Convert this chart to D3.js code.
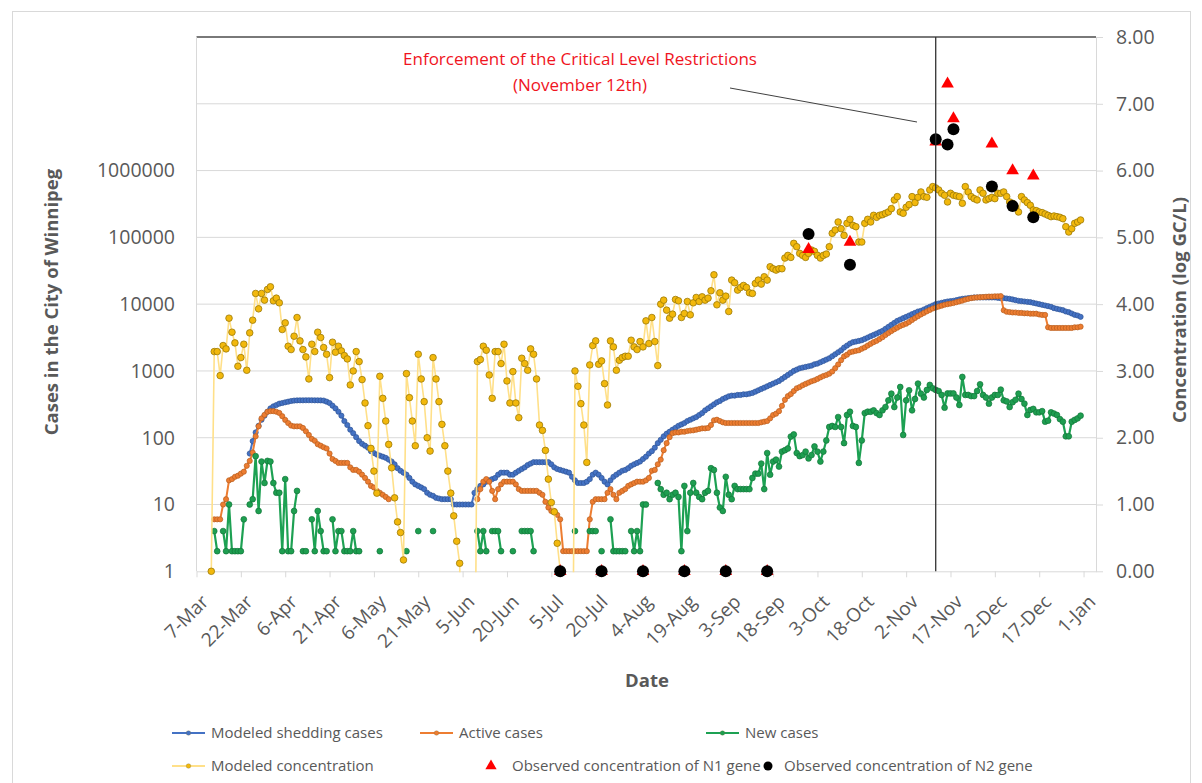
<!DOCTYPE html>
<html>
<head>
<meta charset="utf-8">
<title>Winnipeg cases and wastewater concentration</title>
<script src="https://cdn.jsdelivr.net/npm/d3@7"></script>
<style>
  body { margin: 0; background: #fff; }
  svg { display: block; }
  text { font-family: "Open Sans", "DejaVu Sans", sans-serif; }
</style>
</head>
<body>
<svg id="chart" width="1202" height="783"></svg>
<script>
// ---------------------------------------------------------------------------
// Data (daily series, 2020). Case counts on the left log axis,
// wastewater concentrations (log GC/L) on the right axis.
// ---------------------------------------------------------------------------
const axisOrigin = "2020-03-07";
const tickLabels = ["7-Mar", "22-Mar", "6-Apr", "21-Apr", "6-May", "21-May", "5-Jun",
  "20-Jun", "5-Jul", "20-Jul", "4-Aug", "19-Aug", "3-Sep", "18-Sep", "3-Oct",
  "18-Oct", "2-Nov", "17-Nov", "2-Dec", "17-Dec", "1-Jan"];
const leftTicks = [1, 10, 100, 1000, 10000, 100000, 1000000];
const rightTicks = [0, 1, 2, 3, 4, 5, 6, 7, 8];

// Modeled shedding cases, daily from 25 March
const sheddingStart = "2020-03-25";
const shedding = [
  58, 89, 120, 151, 186, 214, 245, 275, 295, 309, 324, 331, 339, 347, 355,
  360, 362, 363, 363, 364, 364, 364, 363, 363, 362, 360,
  347, 331, 302, 275, 245, 214, 178, 155, 132, 117, 102, 89, 81, 76, 71, 63,
  59, 56, 54, 52, 50, 47, 44, 40, 35, 32, 30, 28, 25, 22, 20, 19, 18, 17, 15, 14, 13.5, 12.6, 12.3, 12, 12, 12, 12,
  10, 10, 10, 10, 10, 10, 10,
  15, 17, 19, 20, 22, 23, 24, 25, 28, 30, 30, 30, 28, 28, 30, 32, 34, 36, 39, 41, 43, 43, 43, 43, 43, 43,
  40, 36, 34, 33, 32, 31, 30, 26, 23, 21, 21, 21, 22, 24, 28, 30, 28, 25, 22, 20, 23, 26, 28, 30, 32, 33, 35, 38, 40, 42, 44, 48, 52, 58, 63, 71, 83,
  93, 105, 115, 123, 132, 141, 151, 158, 166, 178, 186, 195, 204, 219, 234, 257, 275, 295, 316, 339, 355, 380, 398, 417, 427, 427, 437, 437, 447, 447, 457, 468, 490, 513, 537, 562, 589, 617, 646, 676, 708, 759, 813, 871, 933, 1000, 1047, 1096,
  1122, 1148, 1175, 1202, 1259, 1288, 1349, 1413, 1479, 1549, 1660, 1778, 1905, 2042, 2239, 2399, 2570, 2692, 2754, 2818, 2884, 3020, 3162, 3311, 3467, 3631, 3802, 3981, 4266, 4571, 4898, 5248, 5623, 5888, 6166, 6457, 6761, 7079, 7413, 7762, 7943, 8318, 8710, 9120, 9550, 10000,
  10230, 10470, 10720, 10960, 11090, 11220, 11480, 11750, 12020, 12160, 12300, 12450, 12590, 12590, 12590, 12590, 12590, 12590, 12590, 12590, 12450, 12300, 12300, 12160, 12020, 11750, 11480, 11220, 11090, 10960, 10840, 10720, 10470, 10230, 10000, 9772, 9550, 9333, 9120, 8710, 8511, 8318, 8128, 7762, 7586, 7244, 6918, 6761, 6457
];

// Active cases, daily from 13 March (null = no value reported)
const activeStart = "2020-03-13";
const active = [
  6, 6, 6, 10, 12, 23, 24, 26, 27, 29, 31, 38, 45, 60, 105, 148, 195, 220, 245, 250, 250, 245, 235, 210, 185, 166, 152, 148, 148, 148,
  140, 125, 110, 96, 90, 80, 76, 72, 69, 58, 48, 45, 42, 42, 42, 42, 36, 33, 33, 31, 28, 25, 22, 19, 18, 16, 15, 14, 13, 12,
  null, null, null, null, null, null, null, null, null, null, null, null, null, null, null,
  null, null, null, null, null, null, null, null, null, null, null, null, null, null,
  12, 17, 22, 24, 22, 16, 12, 17, 20, 22, 22, 22, 22, 20, 17, 16, 16, 16, 16, 16, 16, 15, 14, 11, 9, 8, 8, 7, 6, 2, 2, 2, 2, 2, 2, 2, 2, 2, 6, 11, 12, 12, 12, 12, 15,
  17, 14, 12, 15, 16, 17, 19, 20, 21, 22, 22, 22, 23, 25, 32, 33, 40, 47, 65, 83, 102, 117, 120, 120, 123, 123, 126, 128, 129, 132, 135, 138, 138, 140, 155, 182, 186, 178, 170, 166,
  166, 166, 166, 166, 166, 166, 166, 166, 166, 166, 166, 170, 174, 178, 195, 219, 229,
  250, 300, 370, 420, 450, 500, 550, 575, 610, 640, 670, 700, 724, 760, 800, 840, 870, 910, 980, 1100, 1250, 1450, 1650, 1750, 1900, 1950, 2000, 2040, 2150, 2250, 2400, 2550, 2700, 2820, 3000, 3200, 3450, 3700, 3950, 4200, 4450, 4700, 4900, 5100,
  5400, 5800, 6200, 6600, 7000, 7400, 7800, 8200, 8600, 8900, 9200, 9500, 9800, 10000, 10200, 10400, 10700, 11000, 11300, 11700, 12000, 12300, 12500, 12600, 12700, 12800, 12900, 13000, 13000, 13100, 13100, 13200,
  8100, 7700, 7600, 7500, 7500, 7400, 7400, 7300, 7300, 7200, 7200, 7200, 7000, 6900, 6900,
  4500, 4400, 4400, 4400, 4400, 4400, 4400, 4400, 4400, 4500, 4500, 4600
];

// New cases, daily from 13 March (null = no new cases)
const newStart = "2020-03-13";
const newCases = [
  4, 2, null, 4, 2, 10, 2, 2, 2, 2, 6, null, 10, 12, 53, 8, 44, 21, 45, 44,
  21, 15, 15, 2, 24, 2, 2, 8, 16, null, 2, 2, null, 6, 2, 8, 4, 2, 2, null,
  6, 2, 4, 4, 2, 2, 2, 4, 2, 2,
  null, null, null, null, null, null, 2, null, null, null, null, null, null, null, null, 2, null, null, null, 4,
  null, null, null, null, 4, null, null, null, null, null, null, null, null, null, null, null, null, null, null,
  4, 2, 4, 2, null, 4, 4, 4, 2, null, null, null, 2, null, null, 4, 4, 4, 4, 2,
  null, null, null, null, null, null, null, null, null, null, null, null, null, 4, null, null, null, null, 4, 4, 4,
  null, 2, null, null, 6, 2, 2, 2, 2, 2, null, 4, 2, 4, 2, 10, 10, null, null, null,
  21, 17, 14, 15, 12, 14, 15, 13, 2, 19, 4, 15, 21, 15, 13, 12, 15, 16, 35, 33, 15, 9, 8, 26, 14, 12, 19, 17, 17, 17, 17, 17, 25, 29, 29, 41, 17, 59, 28, 44, 47,
  37, 62, 65, 69, 104, 112, 59, 53,
  55, 62, 49, 55, 74, 62, 44, 62, 91, 145, 150, 145, 204, 145, 83, 219, 245, 150, 145, 42,
  91, 234, 245, 245, 257, 234, 219, 257, 288, 363, 457, 288, 400, 575, 110, 363, 513, 257, 380, 646,
  457, 400, 520, 617, 550, 520, 500, 437, 282, 460, 460, 460, 400, 309, 813, 437, 437, 420, 420, 500,
  631, 437, 400, 324, 400, 437, 437, 525, 363, 350, 288, 340, 370, 457, 380, 324, 219, 260, 270, 240,
  240, 250, 174, 180, 240, 230, 219, 190, 174, 105, 105, 174, 185, 195, 214
];

// Modeled concentration (log GC/L), daily from 12 March.
// Days with no detectable concentration sit below the axis floor.
const concStart = "2020-03-12";
const concentration = [
  0, 3.29, 3.29, 2.93, 3.38, 3.33, 3.79, 3.58, 3.42, 3.07, 3.2, 3.4, 3.01, 3.57, 3.76, 4.16,
  3.93, 4.16, 4.06, 4.22, 4.26, 4.05, 4.09, 4.02, 3.62, 3.72, 3.37, 3.32, 3.52, 3.8, 3.45, 3.32, 3.21, 2.88, 3.4, 3.29,
  3.58, 3.5, 3.35, 3.25, 2.9, 3.43, 3.28, 3.37, 3.3, 3.23, 3.18, 2.79, 3.0, 3.29, 3.14, 2.87, 2.52, 2.18, 1.84, 1.5,
  1.17, 2.92, 2.59, 2.25, 1.9, 1.55, 1.1, 0.74, 0.58, 0.17, 2.96, 2.6, 2.25, 1.88, 3.25, 2.88, 2.54, 2.0, 1.8, 3.2,
  2.88, 2.54, 2.2, 1.88, 1.5, 1.17, 0.83, 0.45, 0.12, -3, -3, -3, -3, -3, 3.14, 3.17, 3.37, 3.31, 2.94, 2.59,
  3.29, 3.29, 3.11, 3.4, 2.85, 2.52, 2.99, 2.52, 2.3, 3.19, 3.11, 3.01, 3.33, 3.25, 2.88, 2.19, 2.11, 1.81, 1.38, 1.03,
  0.89, 0.42, 0.02, -3, -3, -3, -3, 3.0, 2.77, 2.51, 2.19, 1.63, 3.09, 3.38, 3.45, 3.1, 3.15, 2.81, 2.49, 3.45,
  3.36, 3.01, 3.16, 3.2, 3.22, 3.22, 3.46, 3.36, 3.32, 3.44, 3.36, 3.75, 3.41, 3.8, 3.44, 3.08, 4.0, 4.06, 3.91, 3.79,
  3.85, 4.07, 4.05, 3.8, 3.86, 4.04, 3.84, 4.02, 4.1, 4.04, 4.11, 4.06, 4.09, 4.2, 4.44, 3.99, 4.17, 4.06, 4.12, 3.89,
  4.36, 4.32, 4.21, 4.25, 4.28, 4.25, 4.17, 4.16, 4.31, 4.36, 4.3, 4.41, 4.36, 4.56, 4.53, 4.51, 4.53, 4.53, 4.69, 4.73,
  4.7, 4.91, 4.86, 4.76, 4.73, 4.7, 4.76, 4.81, 4.79, 4.73, 4.69, 4.73, 4.75, 4.86, 5.06, 5.11, 5.23, 5.13, 5.03, 5.21,
  5.27, 5.18, 5.16, 4.93, 4.93, 5.21, 5.27, 5.23, 5.33, 5.3, 5.33, 5.34, 5.36, 5.38, 5.43, 5.56, 5.61, 5.38, 5.36, 5.45,
  5.49, 5.61, 5.52, 5.6, 5.68, 5.61, 5.6, 5.71, 5.76, 5.74, 5.71, 5.66, 5.63, 5.53, 5.66, 5.63, 5.62, 5.61, 5.51, 5.76,
  5.68, 5.61, 5.58, 5.56, 5.71, 5.66, 5.56, 5.58, 5.6, 5.58, 5.66, 5.66, 5.68, 5.61, 5.53, 5.51, 5.45, 5.38, 5.61, 5.56,
  5.52, 5.48, 5.41, 5.4, 5.38, 5.37, 5.35, 5.33, 5.31, 5.32, 5.31, 5.3, 5.28, 5.16, 5.08, 5.13, 5.21, 5.23, 5.26
];

// Observed wastewater concentrations (log GC/L)
const obsDates = ["2020-07-08", "2020-07-22", "2020-08-05", "2020-08-19", "2020-09-02", "2020-09-16",
  "2020-09-30", "2020-10-14", "2020-11-12", "2020-11-16", "2020-11-18", "2020-12-01", "2020-12-08", "2020-12-15"];
const obsN1 = [0, 0, 0, 0, 0, 0, 4.82, 4.93, 6.43, 7.3, 6.78, 6.4, 6.0, 5.92];
const obsN2 = [0, 0, 0, 0, 0, 0, 5.05, 4.59, 6.47, 6.39, 6.62, 5.76, 5.47, 5.3];

const restrictionDate = "2020-11-12";
const annotationLines = ["Enforcement of the Critical Level Restrictions", "(November 12th)"];

// ---------------------------------------------------------------------------
const parse = d3.utcParse("%Y-%m-%d");
const origin = parse(axisOrigin);
const toSeries = (startStr, values) => {
  const s = parse(startStr);
  return values.map((v, i) => ({ date: d3.utcDay.offset(s, i), v }));
};

const sheddingData = toSeries(sheddingStart, shedding);
const activeData = toSeries(activeStart, active);
const newData = toSeries(newStart, newCases);
const concData = toSeries(concStart, concentration);
const obsData = obsDates.map((d, i) => ({ date: parse(d), n1: obsN1[i], n2: obsN2[i] }));

const W = 1202, H = 783;
const plot = { left: 196.5, right: 1096, top: 37, bottom: 571.3 };
const tickDates = tickLabels.map((_, i) => d3.utcDay.offset(origin, 15 * i));

const x = d3.scaleUtc()
  .domain([origin, d3.utcHour.offset(origin, Math.round(304.2 * 24))])
  .range([plot.left, plot.right]);
const yCases = d3.scaleLog().domain([1, 1e8]).range([plot.bottom, plot.top]);
const yConc = d3.scaleLinear().domain([0, 8]).range([plot.bottom, plot.top]);

const svg = d3.select("#chart");
svg.append("rect").attr("width", W).attr("height", H).attr("fill", "#fff");

// outer chart frame
svg.append("rect")
  .attr("x", 12.5).attr("y", 11.5).attr("width", 1178).attr("height", 800)
  .attr("fill", "none").attr("stroke", "#d9d9d9").attr("stroke-width", 1);

const defs = svg.append("defs");
defs.append("clipPath").attr("id", "plotClip")
  .append("rect")
  .attr("x", plot.left).attr("y", plot.top)
  .attr("width", plot.right - plot.left).attr("height", plot.bottom - plot.top + 1);

// horizontal gridlines (one per right-axis unit)
svg.append("g").selectAll("line")
  .data(rightTicks.filter(t => t > 0 && t < 8))
  .join("line")
  .attr("x1", plot.left).attr("x2", plot.right)
  .attr("y1", d => yConc(d)).attr("y2", d => yConc(d))
  .attr("stroke", "#d9d9d9").attr("stroke-width", 1);

// top frame line
svg.append("line")
  .attr("x1", plot.left).attr("x2", plot.right)
  .attr("y1", plot.top).attr("y2", plot.top)
  .attr("stroke", "#4d4d4d").attr("stroke-width", 1.3);

// bottom (date) axis
const xAxis = d3.axisBottom(x).tickValues(tickDates).tickFormat((d, i) => tickLabels[i])
  .tickSizeOuter(0).tickSizeInner(6);
const gx = svg.append("g").attr("transform", `translate(0,${plot.bottom})`).call(xAxis);
gx.select(".domain").attr("stroke", "#d9d9d9");
gx.selectAll(".tick line").attr("stroke", "#d9d9d9");
gx.selectAll(".tick text")
  .attr("x", 0).attr("y", 0).attr("dy", "0.35em")
  .attr("transform", "translate(8,27) rotate(-45)")
  .attr("text-anchor", "end")
  .attr("fill", "#595959")
  .style("font-size", "19px")
  .style("font-family", "'Open Sans', sans-serif");

// left (cases) axis
svg.append("line")
  .attr("x1", plot.left).attr("x2", plot.left)
  .attr("y1", plot.top).attr("y2", plot.bottom)
  .attr("stroke", "#d9d9d9");
svg.append("g").selectAll("text")
  .data(leftTicks)
  .join("text")
  .attr("x", 175).attr("y", d => yCases(d)).attr("dy", "0.35em")
  .attr("text-anchor", "end").attr("fill", "#595959")
  .style("font-size", "19.5px")
  .text(d => d3.format("d")(d));

// right (concentration) axis
const yAxisR = d3.axisRight(yConc).tickValues(rightTicks).tickFormat(d3.format(".2f"))
  .tickSizeOuter(0).tickSizeInner(7).tickPadding(13);
const gr = svg.append("g").attr("transform", `translate(${plot.right},0)`).call(yAxisR);
gr.select(".domain").attr("stroke", "#d9d9d9");
gr.selectAll(".tick line").attr("stroke", "#d9d9d9");
gr.selectAll(".tick text").attr("fill", "#595959")
  .style("font-size", "19.5px").style("font-family", "'Open Sans', sans-serif");

// axis titles
svg.append("text")
  .attr("transform", "translate(58,302) rotate(-90)")
  .attr("text-anchor", "middle").attr("fill", "#595959")
  .style("font-size", "18.5px").style("font-weight", "bold")
  .text("Cases in the City of Winnipeg");
svg.append("text")
  .attr("transform", "translate(1186,310) rotate(-90)")
  .attr("text-anchor", "middle").attr("fill", "#595959")
  .style("font-size", "18.5px").style("font-weight", "bold")
  .text("Concentration (log GC/L)");
svg.append("text")
  .attr("x", 647).attr("y", 687)
  .attr("text-anchor", "middle").attr("fill", "#595959")
  .style("font-size", "18.5px").style("font-weight", "bold")
  .text("Date");

// ---------------------------------------------------------------------------
// Case series (left axis)
const casesLine = d3.line()
  .defined(d => d.v != null && d.v > 0)
  .x(d => x(d.date)).y(d => yCases(d.v));

const caseSeries = [
  { data: sheddingData, line: "#4472C4", fill: "#4472C4", stroke: "#2F5597", r: 2.6, w: 2 },
  { data: activeData, line: "#ED7D31", fill: "#ED7D31", stroke: "#B85E1F", r: 2.6, w: 2 },
  { data: newData, line: "#1DA153", fill: "#1E9E50", stroke: "#11773A", r: 2.9, w: 2.2 }
];
caseSeries.forEach(s => {
  const g = svg.append("g");
  g.append("path").datum(s.data)
    .attr("fill", "none").attr("stroke", s.line).attr("stroke-width", s.w)
    .attr("stroke-linejoin", "round")
    .attr("d", casesLine);
  g.selectAll("circle")
    .data(s.data.filter(d => d.v != null && d.v > 0))
    .join("circle")
    .attr("cx", d => x(d.date)).attr("cy", d => yCases(d.v)).attr("r", s.r)
    .attr("fill", s.fill).attr("stroke", s.stroke).attr("stroke-width", 0.7);
});

// Modeled concentration (right axis)
const concLine = d3.line().x(d => x(d.date)).y(d => yConc(d.v));
const gc = svg.append("g");
gc.append("path").datum(concData)
  .attr("clip-path", "url(#plotClip)")
  .attr("fill", "none").attr("stroke", "#FFE089").attr("stroke-width", 1.6)
  .attr("stroke-linejoin", "round")
  .attr("d", concLine);
gc.selectAll("circle")
  .data(concData.filter(d => d.v >= 0))
  .join("circle")
  .attr("cx", d => x(d.date)).attr("cy", d => yConc(d.v)).attr("r", 3.3)
  .attr("fill", "#F2B80C").attr("stroke", "#9C7A08").attr("stroke-width", 0.8);

// Observed N1 (triangles) then N2 (dots)
const tri = d3.symbol().type(d3.symbolTriangle).size(70);
svg.append("g").selectAll("path")
  .data(obsData)
  .join("path")
  .attr("d", tri)
  .attr("transform", d => `translate(${x(d.date)},${yConc(d.n1)})`)
  .attr("fill", "#FF0000");
svg.append("g").selectAll("circle")
  .data(obsData)
  .join("circle")
  .attr("cx", d => x(d.date)).attr("cy", d => yConc(d.n2)).attr("r", 6)
  .attr("fill", "#000");

// Restriction marker line and annotation
const rx = x(parse(restrictionDate));
svg.append("line")
  .attr("x1", rx).attr("x2", rx).attr("y1", plot.top).attr("y2", plot.bottom)
  .attr("stroke", "#333").attr("stroke-width", 1.3);
svg.append("line")
  .attr("x1", 730).attr("y1", 88).attr("x2", 917).attr("y2", 122)
  .attr("stroke", "#404040").attr("stroke-width", 1);
svg.append("g").selectAll("text")
  .data(annotationLines)
  .join("text")
  .attr("x", 580).attr("y", (d, i) => 65 + i * 26)
  .attr("text-anchor", "middle").attr("fill", "#F0141E")
  .style("font-size", "17px")
  .text(d => d);

// ---------------------------------------------------------------------------
// Legend
const legendItems = [
  { label: "Modeled shedding cases", kind: "line", color: "#4472C4", mfill: "#4472C4", x: 172, y: 733 },
  { label: "Active cases", kind: "line", color: "#ED7D31", mfill: "#ED7D31", x: 420, y: 733 },
  { label: "New cases", kind: "line", color: "#1DA153", mfill: "#1E9E50", x: 706, y: 733 },
  { label: "Modeled concentration", kind: "line", color: "#FFE089", mfill: "#F2B80C", x: 172, y: 766 },
  { label: "Observed concentration of N1 gene", kind: "tri", color: "#FF0000", x: 484, y: 766 },
  { label: "Observed concentration of N2 gene", kind: "dot", color: "#000", x: 761, y: 766 }
];
const lg = svg.append("g").selectAll("g").data(legendItems).join("g")
  .attr("transform", d => `translate(${d.x},${d.y})`);
lg.filter(d => d.kind === "line").append("line")
  .attr("x1", 0).attr("x2", 33).attr("y1", 0).attr("y2", 0)
  .attr("stroke", d => d.color).attr("stroke-width", 2);
lg.filter(d => d.kind === "line").append("circle")
  .attr("cx", 16.5).attr("cy", 0).attr("r", 2.3)
  .attr("fill", d => d.mfill).attr("stroke", "#7a6a3a").attr("stroke-opacity", 0.5).attr("stroke-width", 0.6);
lg.filter(d => d.kind === "tri").append("path")
  .attr("d", d3.symbol().type(d3.symbolTriangle).size(55))
  .attr("transform", "translate(7,0)")
  .attr("fill", d => d.color);
lg.filter(d => d.kind === "dot").append("circle")
  .attr("cx", 7).attr("cy", 0).attr("r", 4.5).attr("fill", d => d.color);
lg.append("text")
  .attr("x", d => d.kind === "line" ? 39 : (d.kind === "tri" ? 28 : 23))
  .attr("y", 0).attr("dy", "0.35em")
  .attr("fill", "#595959")
  .style("font-size", "15px")
  .text(d => d.label);
</script>
</body>
</html>
